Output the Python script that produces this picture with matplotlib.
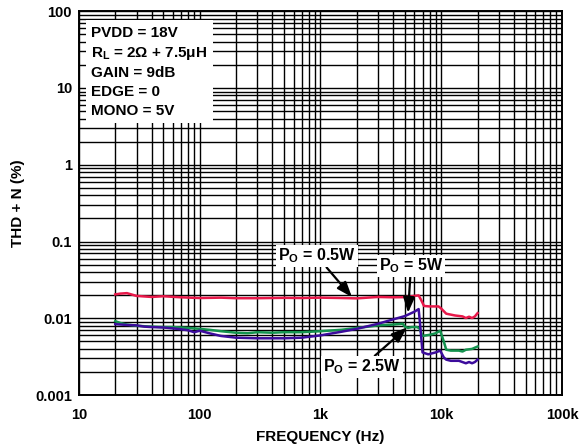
import numpy as np
import matplotlib
matplotlib.use("Agg")
import matplotlib.pyplot as plt
from matplotlib.ticker import LogLocator, FixedLocator, NullFormatter

plt.rcParams['font.family'] = ['Liberation Sans', 'DejaVu Sans']
plt.rcParams['font.weight'] = 'bold'
plt.rcParams['mathtext.fontset'] = 'custom'
plt.rcParams['mathtext.rm'] = 'Liberation Sans:bold'
plt.rcParams['mathtext.it'] = 'Liberation Sans:bold'
plt.rcParams['mathtext.bf'] = 'Liberation Sans:bold'

# P_O = 0.5 W
f_05 = [20, 22, 25, 30, 40, 50, 70, 100, 150, 200, 300, 500, 700, 1000, 1500, 2000,
        3000, 4000, 5000, 6000, 6500, 6800, 7200, 8000, 9500, 10000, 11000, 13000,
        15000, 16000, 17000, 18000, 19000, 20000]
thd_05 = [0.0205, 0.0210, 0.0213, 0.0196, 0.0190, 0.0194, 0.0188, 0.0184, 0.0186, 0.0183,
          0.0183, 0.0185, 0.0184, 0.0186, 0.0184, 0.0182, 0.0190, 0.0188, 0.0189, 0.0196,
          0.0199, 0.0175, 0.0145, 0.0143, 0.0143, 0.0134, 0.0115, 0.0109, 0.0106, 0.0101,
          0.0105, 0.0101, 0.0106, 0.0117]

# P_O = 2.5 W
f_25 = [20, 22, 25, 30, 40, 50, 60, 70, 80, 100, 120, 150, 200, 250, 300, 400, 500, 700,
        1000, 1500, 2000, 2500, 3000, 4000, 4800, 5000, 5300, 5700, 6300, 6600, 7000, 8000,
        9000, 9800, 10500, 11000, 12000, 14000, 15000, 16000, 18000, 20000]
thd_25 = [0.0092, 0.0087, 0.0083, 0.0080, 0.0078, 0.0077, 0.0077, 0.0076, 0.0075, 0.0073,
          0.0071, 0.0068, 0.0065, 0.0064, 0.0066, 0.0065, 0.0066, 0.0066, 0.0068, 0.0071,
          0.0075, 0.0078, 0.0081, 0.0083, 0.0085, 0.0078, 0.0075, 0.0077, 0.0077, 0.0074,
          0.0059, 0.0061, 0.0064, 0.0069, 0.0050, 0.0039, 0.0038, 0.0038, 0.0037, 0.0039,
          0.0040, 0.0043]

# P_O = 5 W
f_5 = [20, 25, 30, 35, 40, 50, 60, 70, 80, 90, 100, 120, 150, 200, 300, 400, 500, 700,
       1000, 1500, 2000, 3000, 4000, 5000, 6000, 6500, 6700, 7000, 7800, 9000, 9800,
       10500, 11000, 12000, 14000, 16000, 17000, 18000, 19000, 20000]
thd_5 = [0.0084, 0.0082, 0.0081, 0.0078, 0.0077, 0.0076, 0.0074, 0.0072, 0.0070, 0.0066,
         0.0069, 0.0064, 0.0059, 0.0056, 0.0055, 0.0055, 0.0055, 0.0056, 0.0060, 0.0067,
         0.0073, 0.0085, 0.0097, 0.0107, 0.0122, 0.0132, 0.0080, 0.0036, 0.0034, 0.0036,
         0.0038, 0.0031, 0.0029, 0.0028, 0.0028, 0.0026, 0.0027, 0.0026, 0.0027, 0.0029]

x_ticks = [10, 100, 1000, 10000, 100000]
x_labels = ['10', '100', '1k', '10k', '100k']
y_ticks = [0.001, 0.01, 0.1, 1, 10, 100]
y_labels = ['0.001', '0.01', '0.1', '1', '10', '100']

conditions = ['PVDD = 18V', r'R$_{\mathregular{L}}$ = 2Ω + 7.5μH', 'GAIN = 9dB',
              'EDGE = 0', 'MONO = 5V']

fig = plt.figure(figsize=(5.8, 4.48), dpi=100)
ax = fig.add_axes([0.136, 0.118, 0.833, 0.857])
ax.set_xscale('log')
ax.set_yscale('log')
ax.set_xlim(10, 100000)
ax.set_ylim(0.001, 100)

ax.plot(f_05, thd_05, color='#e8194a', lw=1.8, zorder=3)
ax.plot(f_25, thd_25, color='#14924e', lw=1.8, zorder=3)
ax.plot(f_5, thd_5, color='#3c0c9c', lw=1.8, zorder=4)

ax.xaxis.set_major_locator(FixedLocator(x_ticks))
ax.set_xticklabels(x_labels)
ax.yaxis.set_major_locator(FixedLocator(y_ticks))
ax.set_yticklabels(y_labels)
ax.xaxis.set_minor_locator(LogLocator(base=10, subs=np.arange(2, 10)))
ax.yaxis.set_minor_locator(LogLocator(base=10, subs=np.arange(2, 10)))
ax.xaxis.set_minor_formatter(NullFormatter())
ax.yaxis.set_minor_formatter(NullFormatter())
ax.grid(True, which='both', color='black', lw=1.0, zorder=1)
ax.tick_params(which='both', length=0, labelsize=10.5)
ax.tick_params(axis='x', pad=9)
ax.tick_params(axis='y', pad=5)
for lbl in ax.get_xticklabels() + ax.get_yticklabels():
    lbl.set_fontweight('bold')
for sp in ax.spines.values():
    sp.set_linewidth(1.4)

ax.set_xlabel('FREQUENCY (Hz)', fontsize=11, fontweight='bold', labelpad=6)
ax.set_ylabel('THD + N (%)', fontsize=11, fontweight='bold', labelpad=7)

# white box with test conditions
ax.text(0.026, 0.962, '\n'.join(conditions), transform=ax.transAxes, va='top', ha='left',
        fontsize=11, fontweight='bold', linespacing=1.42, zorder=5,
        bbox=dict(boxstyle='square,pad=0.35', fc='white', ec='none'))

arrow = dict(arrowstyle='-|>,head_length=0.8,head_width=0.3', color='black', lw=1.6,
             shrinkA=0, shrinkB=0)
box = dict(boxstyle='square,pad=0.12', fc='white', ec='none')
ax.annotate(r'P$_{\mathregular{O}}$ = 0.5W', xy=(1824, 0.0189), xytext=(935, 0.0646),
            ha='center', va='center', fontsize=11.5, fontweight='bold', bbox=box,
            arrowprops=arrow, zorder=6)
ax.annotate(r'P$_{\mathregular{O}}$ = 5W', xy=(5310, 0.0118), xytext=(5614, 0.0479),
            ha='center', va='center', fontsize=11.5, fontweight='bold', bbox=box,
            arrowprops=arrow, zorder=6)
ax.annotate(r'P$_{\mathregular{O}}$ = 2.5W', xy=(5200, 0.0076), xytext=(2206, 0.00232),
            ha='center', va='center', fontsize=11.5, fontweight='bold', bbox=box,
            arrowprops=arrow, zorder=6)

fig.savefig('out.png', dpi=100)
